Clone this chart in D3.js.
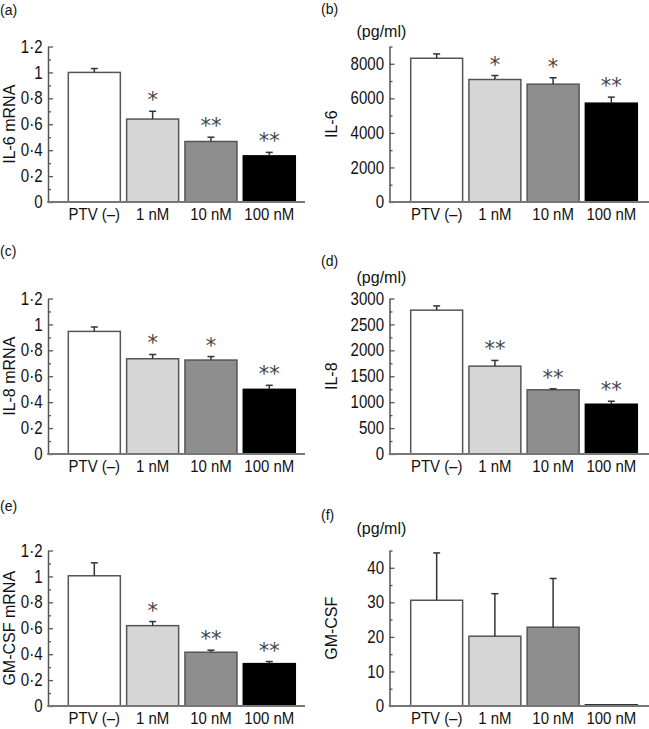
<!DOCTYPE html>
<html>
<head>
<meta charset="utf-8">
<script src="https://cdn.jsdelivr.net/npm/d3@7"></script>
<style>
  html, body { margin: 0; padding: 0; background: #fff; }
  svg text { font-family: "Liberation Sans", Arial, Helvetica, sans-serif; fill: #111; }
</style>
</head>
<body>
<svg id="chart" width="649" height="729"></svg>
<script>
// ---------- data ----------
const categories = ["PTV (\u2013)", "1 nM", "10 nM", "100 nM"];
const fills = ["#ffffff", "#d6d6d6", "#8e8e8e", "#000000"];

// (a) IL-6 mRNA
const aMeans = [1.0, 0.64, 0.467, 0.356];
const aErrs  = [0.03, 0.06, 0.033, 0.027];
const aStars = ["", "*", "**", "**"];
// (b) IL-6 (pg/ml)
const bMeans = [8320, 7090, 6820, 5720];
const bErrs  = [250, 230, 370, 350];
const bStars = ["", "*", "*", "**"];
// (c) IL-8 mRNA
const cMeans = [0.946, 0.735, 0.725, 0.499];
const cErrs  = [0.034, 0.033, 0.027, 0.031];
const cStars = ["", "*", "*", "**"];
// (d) IL-8 (pg/ml)
const dMeans = [2775, 1695, 1238, 960];
const dErrs  = [82, 110, 20, 58];
const dStars = ["", "**", "**", "**"];
// (e) GM-CSF mRNA
const eMeans = [1.005, 0.62, 0.415, 0.327];
const eErrs  = [0.1, 0.032, 0.016, 0.016];
const eStars = ["", "*", "**", "**"];
// (f) GM-CSF (pg/ml)
const fMeans = [30.6, 20.2, 22.8, 0.3];
const fErrs  = [13.7, 12.3, 14.1, 0];
const fStars = ["", "", "", ""];

// tick values / labels
const mrnaMajor = [0, 0.2, 0.4, 0.6, 0.8, 1, 1.2];
const mrnaLabels = ["0", "0\u00b72", "0\u00b74", "0\u00b76", "0\u00b78", "1", "1\u00b72"];
const mrnaMinor = [0.1, 0.3, 0.5, 0.7, 0.9, 1.1];
const il6Major = [0, 2000, 4000, 6000, 8000];
const il6Minor = [1000, 3000, 5000, 7000, 9000];
const il8Major = [0, 500, 1000, 1500, 2000, 2500, 3000];
const il8Minor = [250, 750, 1250, 1750, 2250, 2750];
const gmMajor = [0, 10, 20, 30, 40];
const gmMinor = [5, 15, 25, 35, 45];

const panelLetters = ["(a)", "(b)", "(c)", "(d)", "(e)", "(f)"];
const yTitles = ["IL-6 mRNA", "IL-6", "IL-8 mRNA", "IL-8", "GM-CSF mRNA", "GM-CSF"];
const unitLabel = "(pg/ml)";

// ---------- layout ----------
const svg = d3.select("#chart");
const cols = [
  { axisX: 48, xEnd: 305, band: [65.15, 298.45], letterX: 0, titleX: 15 },
  { axisX: 389.5, xEnd: 649, band: [407.55, 640.45], letterX: 321, titleX: 337 }
];
const rows = [
  { zero: 202, top: 46.5 },
  { zero: 454, top: 298.5 },
  { zero: 706, top: 550.5 }
];
const tickScale = 0.86, xlScale = 0.88;

const panels = [
  { col: 0, row: 0, max: 1.2, means: aMeans, errs: aErrs, stars: aStars, major: mrnaMajor, labels: mrnaLabels, minor: mrnaMinor, letterY: 15 },
  { col: 1, row: 0, max: 9000, means: bMeans, errs: bErrs, stars: bStars, major: il6Major, labels: il6Major.map(String), minor: il6Minor, letterY: 14, unitY: 37 },
  { col: 0, row: 1, max: 1.2, means: cMeans, errs: cErrs, stars: cStars, major: mrnaMajor, labels: mrnaLabels, minor: mrnaMinor, letterY: 256 },
  { col: 1, row: 1, max: 3000, means: dMeans, errs: dErrs, stars: dStars, major: il8Major, labels: il8Major.map(String), minor: il8Minor, letterY: 266, unitY: 283 },
  { col: 0, row: 2, max: 1.2, means: eMeans, errs: eErrs, stars: eStars, major: mrnaMajor, labels: mrnaLabels, minor: mrnaMinor, letterY: 511 },
  { col: 1, row: 2, max: 45, means: fMeans, errs: fErrs, stars: fStars, major: gmMajor, labels: gmMajor.map(String), minor: gmMinor, letterY: 520, unitY: 534 }
];

panels.forEach((p, i) => {
  const c = cols[p.col], r = rows[p.row];
  const g = svg.append("g");

  const x = d3.scaleBand().domain(categories).range(c.band)
    .paddingInner(0.108).paddingOuter(0.054);
  const y = d3.scaleLinear().domain([0, p.max]).range([r.zero, r.top]);
  const cx = k => x(categories[k]) + x.bandwidth() / 2;

  // bars
  g.selectAll("rect.bar").data(p.means).join("rect")
    .attr("x", (d, k) => x(categories[k]))
    .attr("y", d => y(d))
    .attr("width", x.bandwidth())
    .attr("height", d => y(0) - y(d))
    .attr("fill", (d, k) => fills[k])
    .attr("stroke", (d, k) => k === 3 ? "#000" : "#555")
    .attr("stroke-width", 1.5);

  // error bars
  const eb = g.selectAll("g.eb").data(p.means).join("g");
  eb.append("line")
    .attr("x1", (d, k) => cx(k)).attr("x2", (d, k) => cx(k))
    .attr("y1", d => y(d))
    .attr("y2", (d, k) => y(d + p.errs[k]))
    .attr("stroke", (d, k) => p.errs[k] > 0 ? "#333" : "none")
    .attr("stroke-width", 1.5);
  eb.append("line")
    .attr("x1", (d, k) => cx(k) - 3.5).attr("x2", (d, k) => cx(k) + 3.5)
    .attr("y1", (d, k) => y(d + p.errs[k]))
    .attr("y2", (d, k) => y(d + p.errs[k]))
    .attr("stroke", (d, k) => p.errs[k] > 0 ? "#333" : "none")
    .attr("stroke-width", 1.5);

  // stars
  g.selectAll("text.star").data(p.stars).join("text")
    .attr("x", (d, k) => cx(k))
    .attr("y", (d, k) => y(p.means[k] + p.errs[k]) - 4)
    .attr("text-anchor", "middle")
    .style("font-family", "'DejaVu Sans', sans-serif")
    .style("font-size", "21px")
    .style("fill", "#444")
    .text(d => d);

  // y axis major
  const yAxis = d3.axisLeft(y).tickValues(p.major)
    .tickFormat((d, k) => p.labels[k])
    .tickSizeInner(-5).tickSizeOuter(0).tickPadding(5);
  const ag = g.append("g").attr("transform", `translate(${c.axisX},0)`).call(yAxis);
  ag.select(".domain").attr("stroke", "#555").attr("stroke-width", 1.5);
  ag.selectAll(".tick line").attr("stroke", "#555").attr("stroke-width", 1.3);
  ag.selectAll(".tick text")
    .attr("x", -5.5 / tickScale)
    .attr("transform", `scale(${tickScale},1)`)
    .style("font-family", "'Liberation Sans', Arial, sans-serif")
    .style("font-size", "17.5px").attr("fill", "#111");

  // y axis minor
  const yMinor = d3.axisLeft(y).tickValues(p.minor).tickFormat("")
    .tickSizeInner(-3).tickSizeOuter(0);
  const mg = g.append("g").attr("transform", `translate(${c.axisX},0)`).call(yMinor);
  mg.select(".domain").remove();
  mg.selectAll(".tick line").attr("stroke", "#555").attr("stroke-width", 1.3);

  // baseline (x axis)
  g.append("line")
    .attr("x1", c.axisX - 0.75).attr("x2", c.xEnd)
    .attr("y1", y(0)).attr("y2", y(0))
    .attr("stroke", "#777").attr("stroke-width", 2);

  // x labels
  g.selectAll("text.xl").data(categories).join("text")
    .attr("transform", (d, k) => `translate(${cx(k)},${y(0) + 18}) scale(${xlScale},1)`)
    .attr("text-anchor", "middle")
    .style("font-size", "17px")
    .text(d => d);

  // y title
  g.append("text")
    .attr("transform", `translate(${c.titleX},${(r.zero + r.top) / 2}) rotate(-90)`)
    .attr("text-anchor", "middle")
    .style("font-size", "16px")
    .text(yTitles[i]);

  // panel letter
  g.append("text")
    .attr("x", c.letterX).attr("y", p.letterY)
    .style("font-size", "14px")
    .text(panelLetters[i]);

  // unit label
  if (p.unitY) {
    g.append("text")
      .attr("x", 356.5).attr("y", p.unitY)
      .style("font-size", "16px")
      .text(unitLabel);
  }
});
</script>
</body>
</html>
